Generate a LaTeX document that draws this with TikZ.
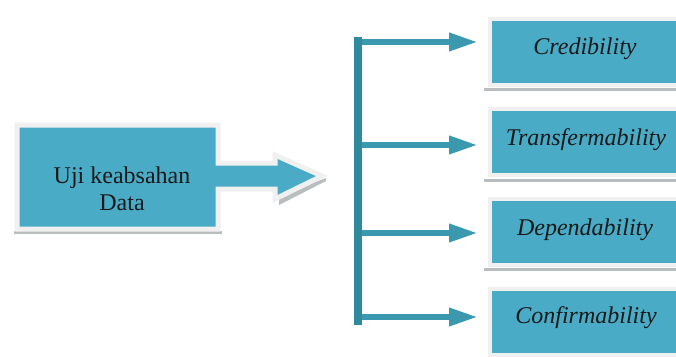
\documentclass[tikz,border=0pt]{standalone}
\usepackage{fontspec}
\setmainfont{Liberation Serif}
\usetikzlibrary{arrows.meta}
\definecolor{boxfill}{HTML}{4AABC6}
\definecolor{framec}{HTML}{F0F0F0}
\definecolor{shadowc}{HTML}{B8BEC0}
\definecolor{barc}{HTML}{2F8A9E}
\definecolor{arrc}{HTML}{3A98AF}
\tikzset{
  itembox/.style={fill=boxfill, draw=framec, line width=4pt, minimum width=204pt, minimum height=66pt, inner sep=0pt},
  itemtext/.style={font=\fontsize{24}{28}\selectfont\itshape, text=black!90},
  boxshadow/.style={fill=shadowc},
  branch/.style={draw=arrc, line width=6.5pt, -{Triangle[length=29pt,width=17pt]}},
  barline/.style={draw=barc, line width=8pt},
}
\begin{document}
\begin{tikzpicture}[x=1pt,y=-1pt]
\useasboundingbox (0,0) rectangle (676,356);
\fill[white] (0,0) rectangle (676,356);
% left big arrow shape
\fill[shadowc] (14,231) rectangle (222,234);
\fill[shadowc] (279,196) -- (326,178) -- (326,181) -- (279,205) -- cycle;
\filldraw[fill=boxfill, draw=framec, line width=5pt, line join=miter]
  (17,125) -- (218,125) -- (218,163) -- (275,163) -- (275,155) -- (322,176) -- (275,199) -- (275,189) -- (218,189) -- (218,229) -- (17,229) -- cycle;
\node[font=\fontsize{24}{27}\selectfont, align=center, text=black!90] (src) at (122,189) {Uji keabsahan\\Data};
% right boxes
\fill[boxshadow] (484,88) rectangle (690,90.5);
\node[itembox, anchor=north west] (c1) at (488,17) {};
\node[itemtext] at (585,49) {Credibility};
\fill[boxshadow] (484,179) rectangle (690,181.5);
\node[itembox, anchor=north west] (c2) at (488,107) {};
\node[itemtext] at (586,140) {Transfermability};
\fill[boxshadow] (484,268) rectangle (690,270.5);
\node[itembox, anchor=north west] (c3) at (488,197) {};
\node[itemtext] at (585,230) {Dependability};
\node[itembox, anchor=north west] (c4) at (488,287) {};
\node[itemtext] at (586,318) {Confirmability};
% bar and branches
\coordinate (btop) at (357.5,37);
\coordinate (bbot) at (357.5,325);
\coordinate (b1) at (357.5,42);
\coordinate (b2) at (357.5,145);
\coordinate (b3) at (357.5,233);
\coordinate (b4) at (357.5,317);
\path[branch] (b1) -- (b1 -| 478,0);
\path[branch] (b2) -- (b2 -| 478,0);
\path[branch] (b3) -- (b3 -| 478,0);
\path[branch] (b4) -- (b4 -| 478,0);
\path[barline] (btop) -- (bbot);
\end{tikzpicture}
\end{document}
